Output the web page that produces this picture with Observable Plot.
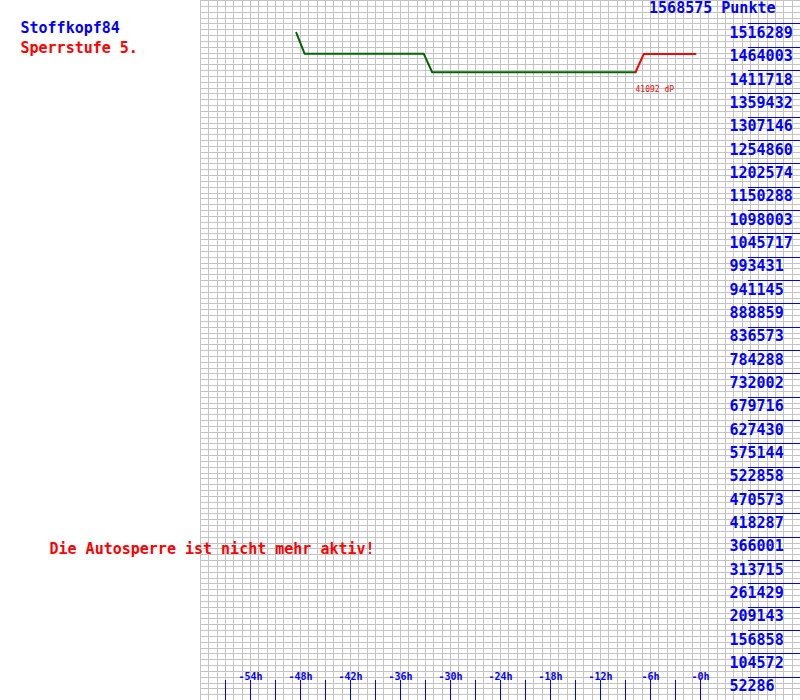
<!DOCTYPE html>
<html><head><meta charset="utf-8">
<script src="https://cdn.jsdelivr.net/npm/d3@7"></script>
<script src="https://cdn.jsdelivr.net/npm/@observablehq/plot@0.6"></script>
<style>body{margin:0;background:#fff}</style>
</head><body><div id="chart"></div>
<script>
const playerName = "Stoffkopf84";
const lockLevel = "Sperrstufe 5.";
const statusText = "Die Autosperre ist nicht mehr aktiv!";
const maxPoints = 1568575;
const topLabel = "1568575 Punkte";
const yTickValues = [52286, 104572, 156858, 209143, 261429, 313715, 366001, 418287, 470573, 522858,
  575144, 627430, 679716, 732002, 784288, 836573, 888859, 941145, 993431, 1045717,
  1098003, 1150288, 1202574, 1254860, 1307146, 1359432, 1411718, 1464003, 1516289];
const xLabelHours = [-54, -48, -42, -36, -30, -24, -18, -12, -6, 0];
const xLabelTexts = ["-54h", "-48h", "-42h", "-36h", "-30h", "-24h", "-18h", "-12h", "-6h", "-0h"];
const xTickHours = [-57, -54, -51, -48, -45, -42, -39, -36, -33, -30, -27, -24, -21, -18, -15, -12, -9, -6, -3, 0];
const greenHours = [-48.5, -47.5, -33.2, -32.2, -7.8];
const greenPoints = [1496150, 1449000, 1449000, 1407880, 1407880];
const redHours = [-7.8, -6.8, -0.6];
const redPoints = [1407880, 1448972, 1448972];
const deltaLabel = "41092 dP";
const deltaAt = {h: -7.8, p: 1407880};

const font = "DejaVu Sans Mono";
const blue = "#0000ff", red = "#ff0000", green = "#006600";

const gridX = d3.range(-60, 13, 1);
const gridY = d3.range(0, 121).map(i => i * maxPoints / 120);
const green_ = greenHours.map((h, i) => ({h, p: greenPoints[i]}));
const red_ = redHours.map((h, i) => ({h, p: redPoints[i]}));
const xLabels = xLabelHours.map((h, i) => ({h, t: xLabelTexts[i]}));

const crisp = {shapeRendering: "crispEdges", strokeWidth: 1, strokeOpacity: 1};

const chart = Plot.plot({
  width: 800, height: 700,
  marginLeft: 200, marginRight: 0, marginTop: 0, marginBottom: 0,
  x: {domain: [-60, 12], axis: null},
  y: {domain: [0, maxPoints], axis: null},
  style: {fontFamily: font, background: "white", overflow: "visible"},
  marks: [
    Plot.ruleX(gridX, {x: d => d, stroke: "#c4c4c4", ...crisp}),
    Plot.ruleY(gridY, {y: d => d, stroke: "#c4c4c4", ...crisp}),
    Plot.ruleX(xTickHours, {x: d => d, stroke: blue, ...crisp, insetTop: 680}),
    Plot.ruleY(yTickValues, {y: d => d, stroke: blue, ...crisp, insetLeft: 548}),
    Plot.line(green_, {x: "h", y: "p", stroke: green, strokeWidth: 2, curve: "linear"}),
    Plot.line(red_, {x: "h", y: "p", stroke: red, strokeWidth: 2, curve: "linear"}),
    Plot.text([deltaLabel], {x: () => deltaAt.h, y: () => deltaAt.p, text: d => d, fill: red, fontSize: 8, textAnchor: "start", lineAnchor: "top", dy: 14}),
    Plot.text(yTickValues, {y: d => d, text: d => String(d), frameAnchor: "right", dx: -71, dy: 3.5, textAnchor: "start", lineAnchor: "top", fill: blue, fontSize: 15, fontWeight: "bold"}),
    Plot.text(xLabels, {x: "h", text: "t", frameAnchor: "bottom", dy: -28, lineAnchor: "top", fill: blue, fontSize: 10, fontWeight: "bold"}),
    Plot.text([topLabel], {text: d => d, frameAnchor: "top-right", dx: -25, dy: 2, textAnchor: "end", lineAnchor: "top", fill: blue, fontSize: 15, fontWeight: "bold"}),
    Plot.text([playerName], {text: d => d, frameAnchor: "top-left", dx: -180, dy: 22, textAnchor: "start", lineAnchor: "top", fill: blue, fontSize: 15, fontWeight: "bold"}),
    Plot.text([lockLevel], {text: d => d, frameAnchor: "top-left", dx: -180, dy: 42, textAnchor: "start", lineAnchor: "top", fill: red, fontSize: 15, fontWeight: "bold"}),
    Plot.text([statusText], {text: d => d, frameAnchor: "top-left", dx: -151, dy: 543, textAnchor: "start", lineAnchor: "top", fill: red, fontSize: 15, fontWeight: "bold"})
  ]
});
document.getElementById("chart").appendChild(chart);
</script>
</body></html>
